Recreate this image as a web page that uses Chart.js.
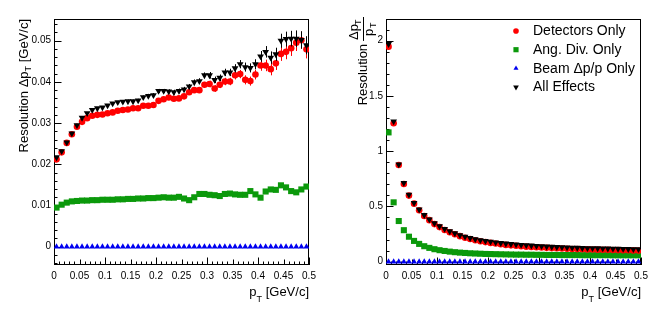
<!DOCTYPE html>
<html>
<head>
<meta charset="utf-8">
<script src="https://cdn.jsdelivr.net/npm/chart.js@4.4.0/dist/chart.umd.min.js"></script>
<style>
    body { margin: 0; background: #fff; }
    #wrap { position: relative; width: 664px; height: 317px; }
    .pad { position: absolute; top: 0; width: 332px; height: 317px; }
</style>
</head>
<body>
<div id="wrap">
    <div class="pad" style="left:0"><canvas id="leftChart" width="332" height="317"></canvas></div>
    <div class="pad" style="left:332px"><canvas id="rightChart" width="332" height="317"></canvas></div>
</div>
<script>
/* ------------------ DATA ------------------ */
const ptBins = [0.005, 0.015, 0.025, 0.035, 0.045, 0.055, 0.065, 0.075, 0.085, 0.095,
    0.105, 0.115, 0.125, 0.135, 0.145, 0.155, 0.165, 0.175, 0.185, 0.195,
    0.205, 0.215, 0.225, 0.235, 0.245, 0.255, 0.265, 0.275, 0.285, 0.295,
    0.305, 0.315, 0.325, 0.335, 0.345, 0.355, 0.365, 0.375, 0.385, 0.395,
    0.405, 0.415, 0.425, 0.435, 0.445, 0.455, 0.465, 0.475, 0.485, 0.495];

const seriesNames = ["Detectors Only", "Ang. Div. Only", "Beam \u0394p/p Only", "All Effects"];

// left pad: absolute resolution [GeV/c]
const absDetectors = [0.0212, 0.0229, 0.0252, 0.0273, 0.0291, 0.0303, 0.0312, 0.0318, 0.0320, 0.0321,
    0.0324, 0.0326, 0.0330, 0.0332, 0.0333, 0.0336, 0.0336, 0.0342, 0.0342, 0.0344,
    0.0354, 0.0358, 0.0362, 0.0359, 0.0360, 0.0365, 0.0375, 0.0380, 0.0380, 0.0393,
    0.0395, 0.0384, 0.0393, 0.0401, 0.0401, 0.0416, 0.0419, 0.0405, 0.0402, 0.0418,
    0.0440, 0.0440, 0.0431, 0.0445, 0.0468, 0.0473, 0.0482, 0.0495, 0.0501, 0.0479];
const absAngDiv = [0.0095, 0.0102, 0.0107, 0.0110, 0.0111, 0.0112, 0.0112, 0.0113, 0.0113, 0.0114,
    0.0114, 0.0114, 0.0115, 0.0115, 0.0116, 0.0116, 0.0117, 0.0117, 0.0118, 0.0118,
    0.0119, 0.0120, 0.0119, 0.0119, 0.0121, 0.0117, 0.0113, 0.0120, 0.0128, 0.0128,
    0.0126, 0.0125, 0.0123, 0.0128, 0.0129, 0.0127, 0.0126, 0.0126, 0.0135, 0.0127,
    0.0119, 0.0134, 0.0139, 0.0138, 0.0149, 0.0144, 0.0135, 0.0132, 0.0139, 0.0146];
const absBeam = [0, 0, 0, 0, 0, 0, 0, 0, 0, 0,
    0, 0, 0, 0, 0, 0, 0, 0, 0, 0,
    0, 0, 0, 0, 0, 0, 0, 0, 0, 0,
    0, 0, 0, 0, 0, 0, 0, 0, 0, 0,
    0, 0, 0, 0, 0, 0, 0, 0, 0, 0];
const absAll = [0.0217, 0.0232, 0.0253, 0.0275, 0.0295, 0.0313, 0.0324, 0.0332, 0.0336, 0.0338,
    0.0343, 0.0348, 0.0351, 0.0352, 0.0353, 0.0353, 0.0355, 0.0363, 0.0366, 0.0368,
    0.0378, 0.0378, 0.0377, 0.0375, 0.0378, 0.0382, 0.0389, 0.0399, 0.0402, 0.0416,
    0.0416, 0.0405, 0.0410, 0.0423, 0.0423, 0.0433, 0.0443, 0.0436, 0.0434, 0.0443,
    0.0462, 0.0473, 0.0459, 0.0467, 0.0500, 0.0504, 0.0505, 0.0505, 0.0502, 0.0489];
// statistical errors on the left pad (detectors and all effects)
const absErr = [0.0002, 0.0002, 0.0002, 0.0002, 0.0002, 0.0002, 0.0003, 0.0003, 0.0003, 0.0003,
    0.0003, 0.0003, 0.0003, 0.0004, 0.0004, 0.0004, 0.0004, 0.0004, 0.0005, 0.0005,
    0.0005, 0.0005, 0.0005, 0.0006, 0.0006, 0.0006, 0.0006, 0.0007, 0.0007, 0.0007,
    0.0008, 0.0008, 0.0008, 0.0009, 0.0009, 0.0010, 0.0010, 0.0011, 0.0011, 0.0012,
    0.0013, 0.0014, 0.0015, 0.0016, 0.0017, 0.0018, 0.0019, 0.0020, 0.0021, 0.0022];

// right pad: relative resolution dp/p
const relDetectors = [1.946, 1.252, 0.875, 0.703, 0.598, 0.525, 0.465, 0.414, 0.376, 0.340,
    0.313, 0.287, 0.266, 0.248, 0.231, 0.217, 0.205, 0.194, 0.185, 0.177,
    0.170, 0.164, 0.158, 0.152, 0.148, 0.144, 0.140, 0.136, 0.133, 0.131,
    0.128, 0.125, 0.123, 0.121, 0.119, 0.117, 0.115, 0.114, 0.112, 0.111,
    0.110, 0.109, 0.108, 0.107, 0.106, 0.105, 0.104, 0.103, 0.102, 0.101];
const relAngDiv = [1.170, 0.537, 0.368, 0.285, 0.226, 0.188, 0.161, 0.140, 0.125, 0.113,
    0.104, 0.097, 0.091, 0.086, 0.082, 0.079, 0.076, 0.074, 0.072, 0.070,
    0.069, 0.068, 0.067, 0.066, 0.065, 0.064, 0.064, 0.063, 0.063, 0.062,
    0.062, 0.061, 0.061, 0.061, 0.060, 0.060, 0.060, 0.060, 0.059, 0.059,
    0.059, 0.059, 0.059, 0.059, 0.058, 0.058, 0.058, 0.058, 0.058, 0.058];
const relBeam = [0, 0, 0, 0, 0, 0, 0, 0, 0, 0,
    0, 0, 0, 0, 0, 0, 0, 0, 0, 0,
    0, 0, 0, 0, 0, 0, 0, 0, 0, 0,
    0, 0, 0, 0, 0, 0, 0, 0, 0, 0,
    0, 0, 0, 0, 0, 0, 0, 0, 0, 0];
const relAll = [1.970, 1.270, 0.880, 0.713, 0.606, 0.532, 0.472, 0.422, 0.383, 0.349,
    0.321, 0.296, 0.275, 0.257, 0.240, 0.226, 0.214, 0.204, 0.195, 0.188,
    0.181, 0.175, 0.169, 0.164, 0.160, 0.156, 0.152, 0.149, 0.146, 0.143,
    0.140, 0.137, 0.135, 0.133, 0.131, 0.129, 0.127, 0.126, 0.124, 0.123,
    0.122, 0.121, 0.120, 0.119, 0.118, 0.117, 0.116, 0.115, 0.114, 0.113];

const xTickLabels = ["0", "0.05", "0.1", "0.15", "0.2", "0.25", "0.3", "0.35", "0.4", "0.45", "0.5"];
const leftTickLabels = ["0", "0.01", "0.02", "0.03", "0.04", "0.05"];
const rightTickLabels = ["0", "0.5", "1", "1.5", "2"];

/* ------------------ HELPERS ------------------ */
const FONT = "'Liberation Sans', Arial, Helvetica, sans-serif";

function toPoints(values) {
    return values.map((v, i) => ({ x: ptBins[i], y: v }));
}

function makeDatasets(det, ang, beam, all, err) {
    return [
        { label: seriesNames[0], data: toPoints(det), errors: err, color: "#ff0000",
          pointStyle: "circle", pointRadius: 3.3, rotation: 0, order: 1 },
        { label: seriesNames[1], data: toPoints(ang), color: "#0b990b",
          pointStyle: "rect", pointRadius: 4.3, rotation: 0, order: 2 },
        { label: seriesNames[2], data: toPoints(beam), color: "#0000f0",
          pointStyle: "triangle", pointRadius: 3.4, rotation: 0, order: 3 },
        { label: seriesNames[3], data: toPoints(all), errors: err, color: "#000000",
          pointStyle: "triangle", pointRadius: 3.9, rotation: 180, order: 0 }
    ].map(d => Object.assign(d, {
        showLine: false,
        backgroundColor: d.color,
        borderColor: d.color,
        borderWidth: 0,
        pointRotation: d.rotation,
        pointHoverRadius: d.pointRadius
    }));
}

/* ------------------ ROOT-LIKE FRAME, TICKS, TITLES ------------------ */
const rootPad = {
    id: "rootPad",
    beforeDatasetsDraw(chart) {
        const { ctx, chartArea: a, scales: { x, y } } = chart;
        const o = chart.options.plugins.rootPad;
        ctx.save();
        ctx.strokeStyle = "#000";
        ctx.lineWidth = 1;
        ctx.strokeRect(Math.round(a.left) + 0.5, Math.round(a.top) + 0.5,
            Math.round(a.width) - 1, Math.round(a.height) - 1);

        ctx.beginPath();
        // x axis ticks, inside the frame
        for (let i = 0; i <= 50; i++) {
            const v = i * 0.01;
            const px = Math.round(x.getPixelForValue(v)) + 0.5;
            const len = (i % 10 === 0) ? 7.5 : (i % 5 === 0 ? 5.5 : 3.5);
            ctx.moveTo(px, a.bottom);
            ctx.lineTo(px, a.bottom - len);
        }
        // y axis ticks
        for (let v = o.yMinorStart; v <= y.max + 1e-9; v += o.yMinor) {
            const py = Math.round(y.getPixelForValue(v)) + 0.5;
            if (py < a.top || py > a.bottom) continue;
            const isMajor = Math.abs(v / o.yMajor - Math.round(v / o.yMajor)) < 1e-6;
            ctx.moveTo(a.left, py);
            ctx.lineTo(a.left + (isMajor ? 7.5 : 3.5), py);
        }
        ctx.stroke();
        ctx.restore();
    },
    beforeDatasetDraw(chart, args) {
        const ds = chart.data.datasets[args.index];
        if (!ds.errors) return;
        const { ctx, chartArea: a, scales: { x, y } } = chart;
        ctx.save();
        ctx.beginPath();
        ctx.rect(a.left, a.top, a.width, a.height);
        ctx.clip();
        ctx.strokeStyle = ds.color;
        ctx.lineWidth = 1;
        ctx.beginPath();
        ds.data.forEach((p, i) => {
            const px = Math.round(x.getPixelForValue(p.x)) + 0.5;
            ctx.moveTo(px, y.getPixelForValue(p.y - ds.errors[i]));
            ctx.lineTo(px, y.getPixelForValue(p.y + ds.errors[i]));
        });
        ctx.stroke();
        ctx.restore();
    },
    afterDraw(chart) {
        const { ctx, chartArea: a } = chart;
        const o = chart.options.plugins.rootPad;
        ctx.save();
        ctx.fillStyle = "#000";
        ctx.textBaseline = "alphabetic";

        // x title: p_T [GeV/c], right aligned with the frame
        ctx.font = "13px " + FONT;
        let right = a.right;
        ctx.textAlign = "right";
        ctx.fillText(" [GeV/c]", right, 296);
        right -= ctx.measureText(" [GeV/c]").width;
        ctx.font = "9px " + FONT;
        ctx.fillText("T", right, 302);
        right -= ctx.measureText("T").width;
        ctx.font = "13px " + FONT;
        ctx.fillText("p", right, 296);

        // y title, rotated
        ctx.rotate(-Math.PI / 2);
        if (o.fracTitle) {
            // Resolution  dp_T / p_T
            const top = -a.top + 2;
            ctx.font = "13px " + FONT;
            ctx.textAlign = "left";
            const numW = ctx.measureText("\u0394p").width + 6;
            const fracEnd = top;
            const fracStart = fracEnd - numW - 2;
            ctx.beginPath();
            ctx.moveTo(fracStart, 31.5);
            ctx.lineTo(fracEnd, 31.5);
            ctx.lineWidth = 1;
            ctx.strokeStyle = "#000";
            ctx.stroke();
            ctx.fillText("\u0394p", fracStart + 1, 26);
            ctx.font = "9px " + FONT;
            ctx.fillText("T", fracStart + 16, 29);
            ctx.font = "13px " + FONT;
            ctx.fillText("p", fracStart + 5, 41);
            ctx.font = "9px " + FONT;
            ctx.fillText("T", fracStart + 13, 44);
            ctx.font = "13px " + FONT;
            ctx.textAlign = "right";
            ctx.fillText("Resolution", fracStart - 3, 35);
        } else {
            let end = -a.top;
            ctx.font = "13px " + FONT;
            ctx.textAlign = "right";
            ctx.fillText(" [GeV/c]", end, 27.5);
            end -= ctx.measureText(" [GeV/c]").width;
            ctx.font = "9px " + FONT;
            ctx.fillText("T", end, 31);
            end -= ctx.measureText("T").width;
            ctx.font = "13px " + FONT;
            ctx.fillText("Resolution \u0394p", end, 27.5);
        }
        ctx.restore();

        // legend drawn inside the pad
        if (o.legend) {
            ctx.save();
            chart.data.datasets.forEach((ds, i) => {
                const ly = o.legend.y + i * o.legend.step;
                ctx.fillStyle = ds.color;
                Chart.helpers.drawPoint(ctx, {
                    pointStyle: ds.pointStyle, rotation: ds.rotation,
                    radius: ds.pointRadius * 0.85, borderWidth: 0
                }, o.legend.x, ly);
                ctx.fillStyle = "#000";
                ctx.font = "14px " + FONT;
                ctx.textAlign = "left";
                ctx.textBaseline = "middle";
                ctx.fillText(ds.label, o.legend.textX, ly + 0.5);
            });
            ctx.restore();
        }
    }
};

function makeOptions(yMin, yMax, tickLabels, pad) {
    return {
        responsive: false,
        animation: false,
        devicePixelRatio: 1,
        layout: { padding: { left: 0, right: 23, top: 19, bottom: 0 } },
        plugins: {
            legend: { display: false },
            tooltip: { enabled: false },
            rootPad: pad
        },
        scales: {
            x: {
                type: "linear", min: 0, max: 0.5,
                grid: { display: false, drawTicks: false },
                border: { display: false },
                afterBuildTicks: s => { s.ticks = xTickLabels.map(t => ({ value: parseFloat(t) })); },
                afterFit: s => { s.height = 52; },
                ticks: {
                    autoSkip: false, maxRotation: 0, padding: 5, color: "#000",
                    font: { family: FONT, size: 10 },
                    callback: (v, i) => xTickLabels[i]
                }
            },
            y: {
                type: "linear", min: yMin, max: yMax,
                grid: { display: false, drawTicks: false },
                border: { display: false },
                afterBuildTicks: s => { s.ticks = tickLabels.map(t => ({ value: parseFloat(t) })); },
                afterFit: s => { s.width = 54; },
                ticks: {
                    autoSkip: false, padding: 3, color: "#000",
                    font: { family: FONT, size: 10 },
                    callback: (v, i) => tickLabels[i]
                }
            }
        }
    };
}

new Chart(document.getElementById("leftChart"), {
    type: "scatter",
    data: { datasets: makeDatasets(absDetectors, absAngDiv, absBeam, absAll, absErr) },
    options: makeOptions(-0.00444, 0.05527, leftTickLabels,
        { yMinorStart: -0.004, yMinor: 0.002, yMajor: 0.01 }),
    plugins: [rootPad]
});

new Chart(document.getElementById("rightChart"), {
    type: "scatter",
    data: { datasets: makeDatasets(relDetectors, relAngDiv, relBeam, relAll, null) },
    options: makeOptions(-0.030, 2.196, rightTickLabels,
        { yMinorStart: 0, yMinor: 0.1, yMajor: 0.5, fracTitle: true,
          legend: { x: 184, textX: 201, y: 31, step: 18.7 } }),
    plugins: [rootPad]
});
</script>
</body>
</html>
